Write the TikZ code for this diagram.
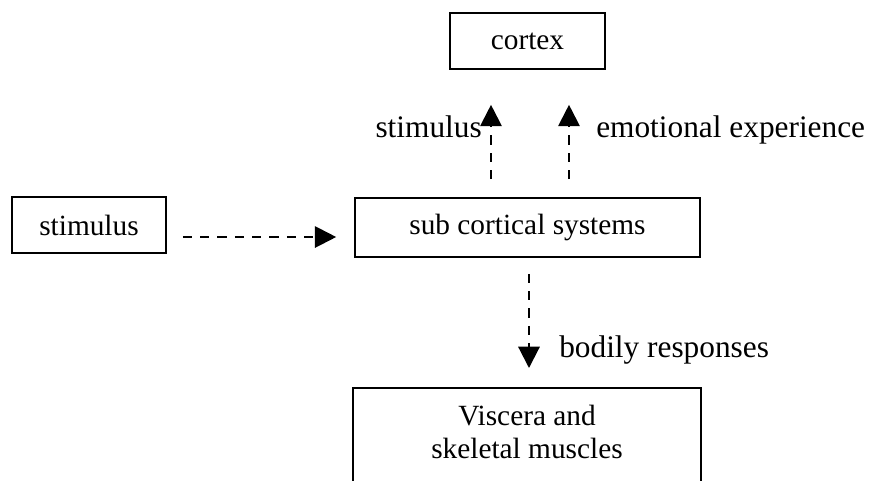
\documentclass[tikz,border=0pt]{standalone}
\usepackage{fontspec}
\setmainfont{Liberation Serif}
\usetikzlibrary{arrows.meta,calc}

\tikzset{
  box/.style={draw, line width=1.2pt, inner sep=0pt, font=\fontsize{22}{25}\selectfont},
  lbl/.style={inner sep=0pt, font=\fontsize{23.5}{28}\selectfont},
  dasharrow/.style={line width=1.6pt, dash pattern=on 7pt off 6pt, -{Triangle[length=16pt,width=16pt]}}
}

\begin{document}
\begin{tikzpicture}[x=0.75pt,y=0.75pt,yscale=-1,xscale=1]
\useasboundingbox (0,0) rectangle (876,480);
\clip (0,0) rectangle (876,480);
% boxes
\node[box, minimum width=115.5pt, minimum height=42pt] (stim) at (89,225) {stimulus};
\node[box, minimum width=116.25pt, minimum height=42pt] (cortex) at (527.5,41) {cortex};
\node[box, minimum width=258.75pt, minimum height=44.25pt] (sub) at (527.5,227.5) {sub cortical systems};
\node[box, draw=none, align=center, minimum width=259.5pt, inner ysep=12pt, anchor=north] (visc) at (527,388) {Viscera and\\skeletal muscles};
\draw[line width=1.2pt] (visc.north west) rectangle ($(visc.south east)+(0,60)$);
% labels
\node[lbl, anchor=base east] (stimlbl) at (482,137) {stimulus};
\node[lbl, anchor=base west] (emolbl) at (596,137) {emotional experience};
\node[lbl, anchor=base west] (bodylbl) at (559,357) {bodily responses};
% dashed arrows
\draw[dasharrow] ($(stim.east)+(16,12)$) -- ($(sub.west)+(-18,9.5)$);
\draw[dasharrow] ($(sub.north)+(-36.5,-18)$) -- ($(cortex.south)+(-36.5,35)$);
\draw[dasharrow] ($(sub.north)+(41.5,-18)$) -- ($(cortex.south)+(41.5,35)$);
\draw[dasharrow] ($(sub.south)+(1.5,16)$) -- ($(visc.north)+(2,-20)$);
\end{tikzpicture}
\end{document}
